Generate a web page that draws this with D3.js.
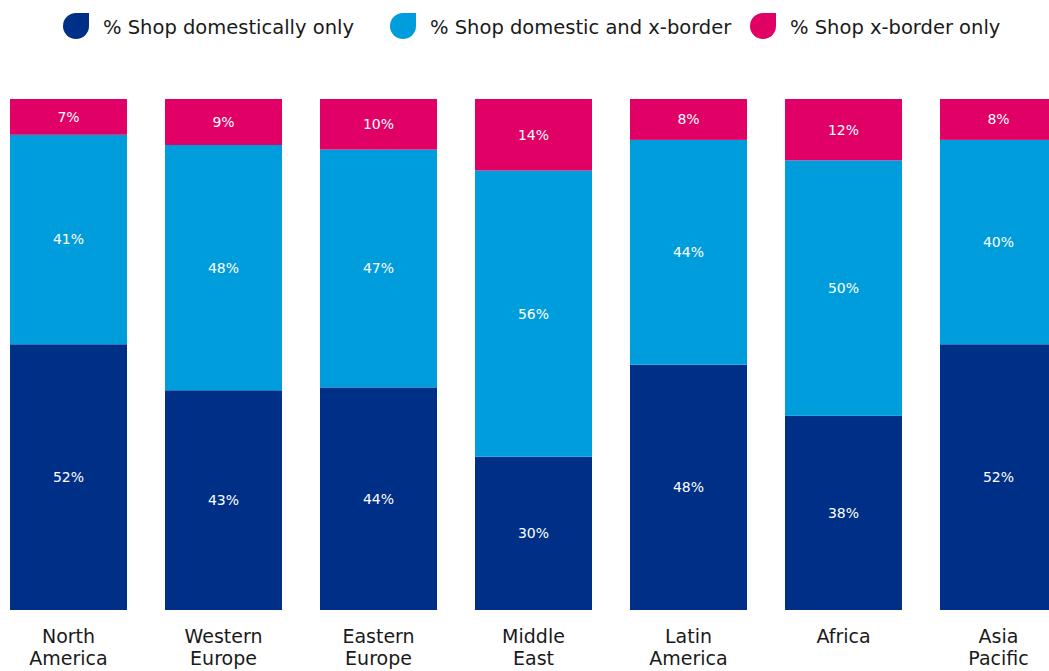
<!DOCTYPE html>
<html>
<head>
<meta charset="utf-8">
<script src="https://cdn.jsdelivr.net/npm/d3@7"></script>
<style>
  body { margin: 0; background: #fff; }
  svg { display: block; font-family: "DejaVu Sans", sans-serif; }
</style>
</head>
<body>
<div id="chart"></div>
<script>
const categories = [["North", "America"], ["Western", "Europe"], ["Eastern", "Europe"], ["Middle", "East"], ["Latin", "America"], ["Africa"], ["Asia", "Pacific"]];
const seriesNames = ["% Shop domestically only", "% Shop domestic and x-border", "% Shop x-border only"];
const domesticOnly = [52, 43, 44, 30, 48, 38, 52];
const domesticAndX = [41, 48, 47, 56, 44, 50, 40];
const xBorderOnly = [7, 9, 10, 14, 8, 12, 8];
const colors = ["#002f87", "#009ddc", "#e10066"];

const width = 1049, height = 671;
const keys = ["dom", "both", "xb"];
const rows = categories.map((c, i) => ({
    name: c.join(" "),
    lines: c,
    dom: domesticOnly[i],
    both: domesticAndX[i],
    xb: xBorderOnly[i]
}));

const svg = d3.select("#chart").append("svg")
    .attr("width", width)
    .attr("height", height);

const step = 155;
const x = d3.scaleBand()
    .domain(rows.map(d => d.name))
    .range([-9, -9 + step * rows.length])
    .paddingInner(38 / step)
    .paddingOuter(19 / step);

const y = d3.scaleLinear()
    .domain([0, 1])
    .range([610, 99]);

const color = d3.scaleOrdinal().domain(keys).range(colors);

const stacked = d3.stack()
    .keys(keys)
    .offset(d3.stackOffsetExpand)(rows);

const layer = svg.selectAll("g.layer")
    .data(stacked)
    .join("g")
    .attr("class", "layer")
    .attr("fill", d => color(d.key));

layer.selectAll("rect")
    .data(d => d)
    .join("rect")
    .attr("x", d => x(d.data.name))
    .attr("y", d => y(d[1]))
    .attr("width", x.bandwidth())
    .attr("height", d => y(d[0]) - y(d[1]));

const labels = svg.append("g")
    .attr("fill", "#fff")
    .attr("font-size", 14)
    .attr("text-anchor", "middle");

stacked.forEach(s => {
    labels.selectAll(null)
        .data(s)
        .join("text")
        .attr("x", d => x(d.data.name) + x.bandwidth() / 2)
        .attr("y", d => (y(d[0]) + y(d[1])) / 2)
        .attr("dy", "0.35em")
        .text(d => d.data[s.key] + "%");
});

// category labels, two lines each
const cat = svg.append("g")
    .attr("font-size", 19)
    .attr("fill", "#1a1a1a")
    .attr("text-anchor", "middle");

rows.forEach(d => {
    d.lines.forEach((l, i) => {
        cat.append("text")
            .attr("x", x(d.name) + x.bandwidth() / 2)
            .attr("y", 643 + i * 22)
            .text(l);
    });
});

// legend
const legendX = [63, 390, 750];
const legend = svg.append("g")
    .selectAll("g")
    .data(seriesNames)
    .join("g")
    .attr("transform", (d, i) => `translate(${legendX[i]}, 13)`);

const r = 13;
legend.append("path")
    .attr("d", `M${r},0 L${2 * r},0 L${2 * r},${r} A${r},${r} 0 1 1 ${r},0 Z`)
    .attr("fill", (d, i) => colors[i]);

legend.append("text")
    .attr("x", 40)
    .attr("y", 14)
    .attr("dy", "0.35em")
    .attr("font-size", 19.5)
    .attr("fill", "#1a1a1a")
    .text(d => d);
</script>
</body>
</html>
